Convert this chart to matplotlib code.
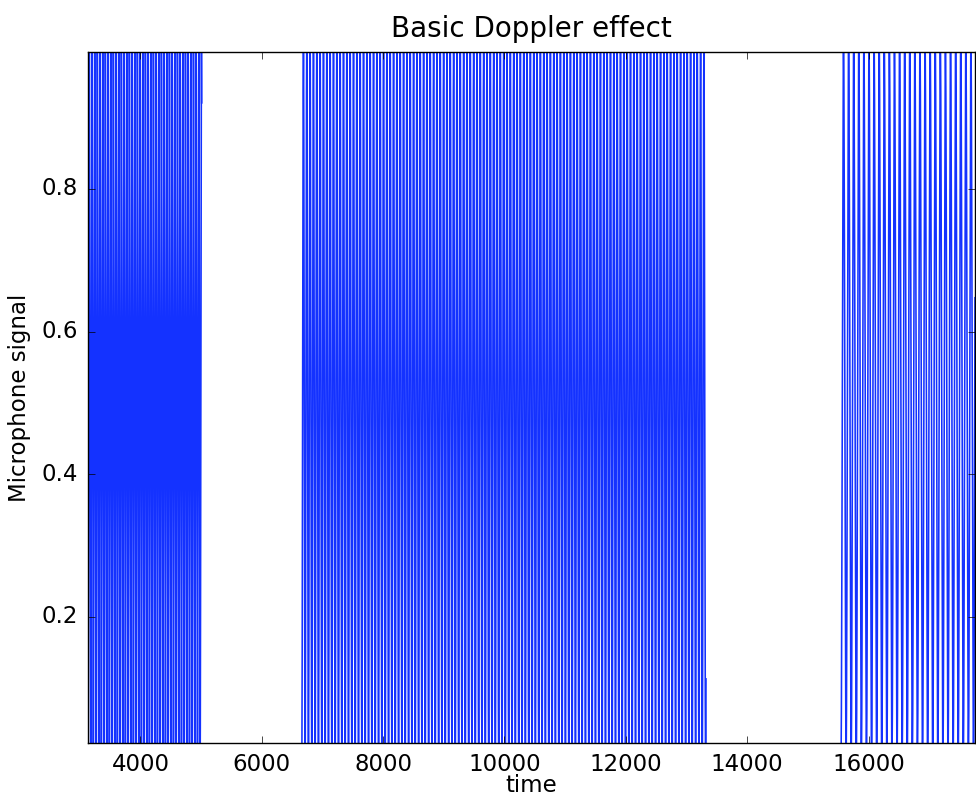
import numpy as np
import matplotlib
matplotlib.use('Agg')
import matplotlib.pyplot as plt

# bursts of tone heard by the microphone
burst_start = [3136, 6659, 15545]
burst_end = [5010, 13320, 17754]
burst_period = [44, 55, 84]   # time units per cycle (approx.)

x_range = (3136, 17754)
y_range = (0.023, 0.992)
y_ticks = [0.2, 0.4, 0.6, 0.8]
x_ticks = [4000, 6000, 8000, 10000, 12000, 14000, 16000]

# sampled signal, silent (NaN) between bursts
t = np.arange(x_range[0], x_range[1] + 1)
signal = np.full(t.shape, np.nan)
for s, e, p in zip(burst_start, burst_end, burst_period):
    m = (t >= s) & (t <= e)
    signal[m] = 0.5 - 0.5 * np.cos(2 * np.pi * (t[m] - s) / p)

plt.style.use('classic')
plt.rcParams['font.family'] = ['DejaVu Sans']
plt.rcParams['font.size'] = 16.5
plt.rcParams['xtick.major.size'] = 5
plt.rcParams['ytick.major.size'] = 5
plt.rcParams['xtick.major.pad'] = 7
plt.rcParams['ytick.major.pad'] = 7

fig = plt.figure(figsize=(9.76, 7.97), dpi=100, facecolor='white')
ax = fig.add_axes([88 / 976, 1 - 743 / 797, 887 / 976, (743 - 52) / 797])
ax.plot(t, signal, color='#1432ff', lw=1.15)

ax.set_xlim(x_range)
ax.set_ylim(y_range)
ax.set_xticks(x_ticks)
ax.set_yticks(y_ticks)
ax.set_xlabel('time', fontsize=16.5, labelpad=-1)
ax.set_ylabel('Microphone signal', fontsize=16.5, labelpad=8)
ax.set_title('Basic Doppler effect', fontsize=20, y=1.012)

fig.savefig('out.png', dpi=100, facecolor='white')
